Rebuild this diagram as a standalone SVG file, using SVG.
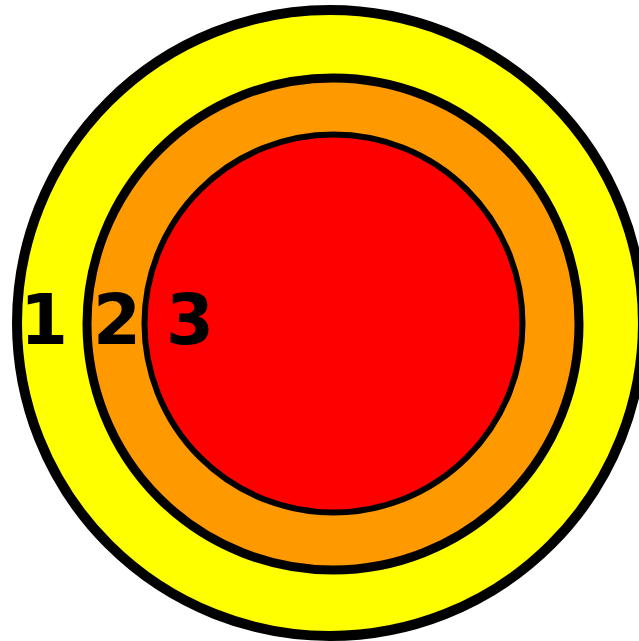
<svg xmlns="http://www.w3.org/2000/svg" width="639" height="641" viewBox="0 0 639 641">
<style>
.ring{stroke:#000}
.lbl{font-family:"DejaVu Sans",sans-serif;font-weight:bold;font-size:69px;fill:#000}
</style>
<rect width="639" height="641" fill="#fff"/>
<g id="ring1"><circle class="ring" cx="330" cy="323" r="313" fill="#ffff00" stroke-width="10"/></g>
<g id="ring2"><circle class="ring" cx="333" cy="324" r="246" fill="#ff9900" stroke-width="9"/></g>
<g id="ring3"><circle class="ring" cx="333.5" cy="323.5" r="189" fill="#ff0000" stroke-width="6"/></g>
<g id="labels">
<text class="lbl" x="20" y="344">1</text>
<text class="lbl" x="93" y="344">2</text>
<text class="lbl" x="166" y="344">3</text>
</g>
</svg>
